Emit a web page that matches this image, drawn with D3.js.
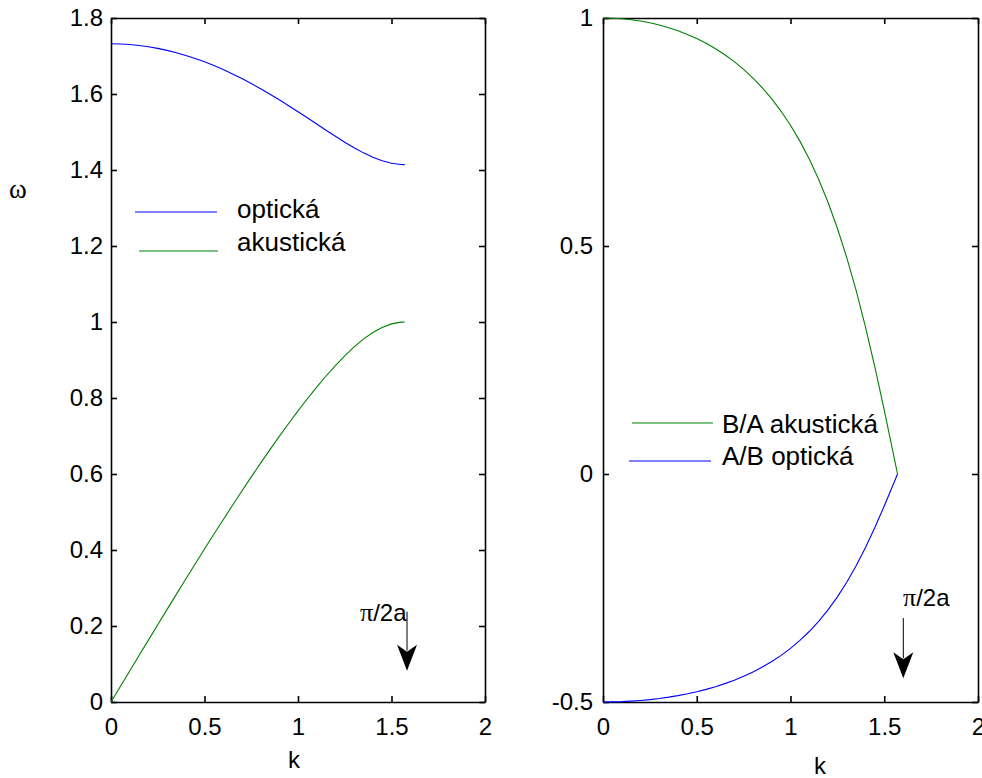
<!DOCTYPE html>
<html>
<head>
<meta charset="utf-8">
<script src="https://cdn.jsdelivr.net/npm/d3@7"></script>
<style>
  html, body { margin: 0; padding: 0; background: #fff; }
  svg { display: block; }
  .tick text { font-family: "Liberation Sans", Arial, sans-serif; font-size: 24px; fill: #000; }
</style>
</head>
<body>
<svg id="chart" width="982" height="778"></svg>
<script>
// ---- data ----
const k = [0, 0.05, 0.10, 0.15, 0.20, 0.25, 0.30, 0.35, 0.40, 0.45, 0.50, 0.55, 0.60, 0.65, 0.70, 0.75,
           0.80, 0.85, 0.90, 0.95, 1.00, 1.05, 1.10, 1.15, 1.20, 1.25, 1.30, 1.35, 1.40, 1.45, 1.50, 1.55, 1.5708];
const omegaOptical = [1.7321, 1.7316, 1.7301, 1.7277, 1.7244, 1.7201, 1.7148, 1.7086, 1.7015, 1.6935, 1.6846,
                      1.6749, 1.6643, 1.6528, 1.6406, 1.6277, 1.6140, 1.5996, 1.5847, 1.5693, 1.5534, 1.5373,
                      1.5210, 1.5047, 1.4886, 1.4731, 1.4584, 1.4451, 1.4335, 1.4242, 1.4177, 1.4145, 1.4142];
const omegaAcoustic = [0, 0.0408, 0.0816, 0.1223, 0.1629, 0.2034, 0.2437, 0.2838, 0.3237, 0.3632, 0.4025,
                       0.4413, 0.4798, 0.5178, 0.5553, 0.5923, 0.6286, 0.6642, 0.6991, 0.7330, 0.7661, 0.7980,
                       0.8287, 0.8579, 0.8855, 0.9111, 0.9344, 0.9549, 0.9722, 0.9858, 0.9950, 0.9996, 1.0000];
const ratioBA = [1, 0.9996, 0.9983, 0.9962, 0.9933, 0.9894, 0.9846, 0.9788, 0.9720, 0.9640, 0.9549, 0.9445,
                 0.9327, 0.9193, 0.9043, 0.8873, 0.8682, 0.8468, 0.8226, 0.7954, 0.7647, 0.7300, 0.6908,
                 0.6463, 0.5960, 0.5390, 0.4747, 0.4025, 0.3223, 0.2344, 0.1401, 0.0416, 0];
const ratioAB = [-0.5, -0.4998, -0.4992, -0.4981, -0.4966, -0.4947, -0.4923, -0.4894, -0.4860, -0.4820, -0.4775,
                 -0.4723, -0.4664, -0.4597, -0.4521, -0.4437, -0.4341, -0.4234, -0.4113, -0.3977, -0.3823,
                 -0.3650, -0.3454, -0.3232, -0.2980, -0.2695, -0.2374, -0.2013, -0.1611, -0.1172, -0.0700,
                 -0.0208, 0];
const xTicks = [0, 0.5, 1, 1.5, 2];
const yTicksLeft = [0, 0.2, 0.4, 0.6, 0.8, 1, 1.2, 1.4, 1.6, 1.8];
const yTicksRight = [-0.5, 0, 0.5, 1];
const legendLeft = ["optická", "akustická"];
const legendRight = ["B/A akustická", "A/B optická"];
// arrow annotations (data units)
const arrowLeft = { x: 1.583, yFrom: 0.2376, yTo: 0.0824, tx: 1.3316, ty: 0.2132 };
const arrowRight = { x: 1.6016, yFrom: -0.316, yTo: -0.448, tx: 1.60, ty: -0.2897 };

const BLUE = "#0000ff", GREEN = "#008000";
const svg = d3.select("#chart");
svg.append("rect").attr("width", 982).attr("height", 778).attr("fill", "#fff");

const fmt = d => String(d);
const FONT = '"Liberation Sans", Arial, sans-serif';

function panel(cfg) {
  const x = d3.scaleLinear().domain([0, 2]).range([cfg.x0, cfg.x1]);
  const y = d3.scaleLinear().domain(cfg.yDomain).range([702, 18]);
  const g = svg.append("g");

  const styleAxis = sel => {
    sel.select(".domain").attr("stroke", "#000").attr("stroke-width", 1.6);
    sel.selectAll(".tick line").attr("stroke", "#000").attr("stroke-width", 1.6);
  };
  g.append("g").attr("transform", `translate(0,702)`)
    .call(d3.axisBottom(x).tickValues(xTicks).tickFormat(fmt).tickSizeInner(-6).tickSizeOuter(0).tickPadding(16))
    .call(styleAxis);
  g.append("g").attr("transform", `translate(0,18)`)
    .call(d3.axisTop(x).tickValues(xTicks).tickFormat("").tickSizeInner(-6).tickSizeOuter(0))
    .call(styleAxis);
  g.append("g").attr("transform", `translate(${cfg.x0},0)`)
    .call(d3.axisLeft(y).tickValues(cfg.yTicks).tickFormat(fmt).tickSizeInner(-6).tickSizeOuter(0).tickPadding(cfg.yPad))
    .call(styleAxis);
  g.append("g").attr("transform", `translate(${cfg.x1},0)`)
    .call(d3.axisRight(y).tickValues(cfg.yTicks).tickFormat("").tickSizeInner(-6).tickSizeOuter(0))
    .call(styleAxis);
  g.selectAll(".tick text").attr("font-family", FONT).attr("font-size", 24);

  const line = d3.line().x(d => x(d[0])).y(d => y(d[1]));
  cfg.series.forEach(s => {
    g.append("path").datum(k.map((kv, i) => [kv, s.values[i]]))
      .attr("d", line).attr("fill", "none").attr("stroke", s.color).attr("stroke-width", 1.1);
  });

  // legend
  cfg.legend.forEach(l => {
    g.append("line").attr("x1", l.lx1).attr("x2", l.lx2).attr("y1", l.ly).attr("y2", l.ly)
      .attr("stroke", l.color).attr("stroke-width", 1.1);
    g.append("text").attr("x", l.tx).attr("y", l.ty).text(l.text)
      .attr("font-family", FONT).attr("font-size", 26).attr("fill", "#000");
  });

  // arrow annotation
  const a = cfg.arrow;
  const ax = x(a.x), ay1 = y(a.yFrom), ay2 = y(a.yTo);
  g.append("line").attr("x1", ax).attr("x2", ax).attr("y1", ay1).attr("y2", ay2 - 20)
    .attr("stroke", "#000").attr("stroke-width", 1);
  g.append("path")
    .attr("d", `M${ax},${ay2} L${ax - 10},${ay2 - 26} L${ax},${ay2 - 19} L${ax + 10},${ay2 - 26} Z`)
    .attr("fill", "#000");
  const t = g.append("text").attr("x", x(a.tx)).attr("y", y(a.ty))
    .attr("font-family", FONT).attr("font-size", 24).attr("fill", "#000");
  t.append("tspan").attr("font-family", '"Liberation Serif", "DejaVu Serif", serif').attr("font-size", 26).text("π");
  t.append("tspan").text("/2a");

  // x label
  g.append("text").attr("x", cfg.kx).attr("y", cfg.ky).attr("text-anchor", "middle")
    .attr("font-family", FONT).attr("font-size", 24).attr("fill", "#000").text("k");
  return g;
}

panel({
  x0: 111, x1: 485, yDomain: [0, 1.8], yTicks: yTicksLeft, yPad: 8,
  series: [{ values: omegaOptical, color: BLUE }, { values: omegaAcoustic, color: GREEN }],
  legend: [
    { text: legendLeft[0], color: BLUE, lx1: 135, lx2: 217, ly: 212, tx: 237, ty: 218 },
    { text: legendLeft[1], color: GREEN, lx1: 139, lx2: 218, ly: 251, tx: 237, ty: 251 }
  ],
  arrow: arrowLeft, kx: 294, ky: 768
});

panel({
  x0: 603, x1: 978, yDomain: [-0.5, 1], yTicks: yTicksRight, yPad: 10,
  series: [{ values: ratioBA, color: GREEN }, { values: ratioAB, color: BLUE }],
  legend: [
    { text: legendRight[0], color: GREEN, lx1: 632, lx2: 713, ly: 423, tx: 722, ty: 433 },
    { text: legendRight[1], color: BLUE, lx1: 629, lx2: 711, ly: 461, tx: 722, ty: 465 }
  ],
  arrow: arrowRight, kx: 820, ky: 774
});

// y label omega
svg.append("text").attr("x", 18).attr("y", 198).attr("text-anchor", "middle")
  .attr("font-family", '"Liberation Serif", "DejaVu Serif", serif').attr("font-size", 27)
  .attr("fill", "#000").text("ω");
</script>
</body>
</html>
